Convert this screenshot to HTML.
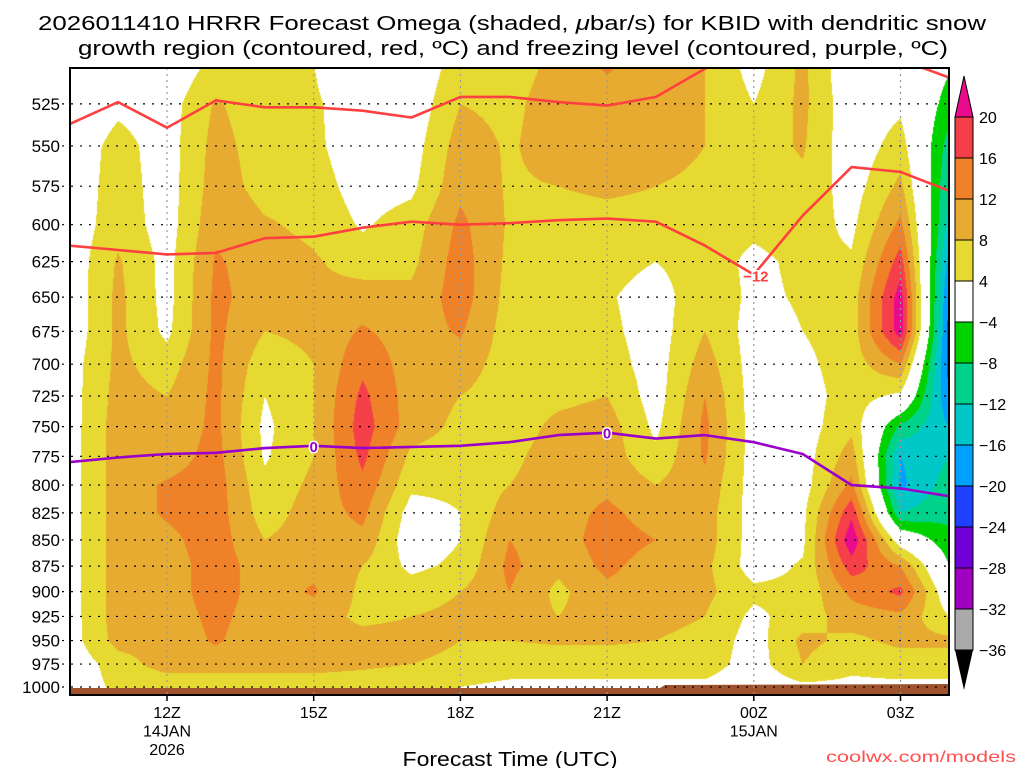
<!DOCTYPE html>
<html><head><meta charset="utf-8">
<style>
html,body{margin:0;padding:0;background:#fff;}
#wrap{position:relative;width:1024px;height:768px;overflow:hidden;font-family:"Liberation Sans",sans-serif;}
canvas{position:absolute;left:0;top:0;}
svg{position:absolute;left:0;top:0;}
</style></head>
<body>
<div id="wrap">
<canvas id="field" width="1024" height="768"></canvas>
<svg id="ov" width="1024" height="768"></svg>
</div>
<script>
// ---- data ----
const levels=[500,525,550,575,600,625,650,675,700,725,750,775,800,825,850,875,900,925,950,975,1000];
const hours=[10,11,12,13,14,15,16,17,18,19,20,21,22,23,24,25,26,27,28];
// omega per forecast hour, values from 500 -> 1000 hPa
const omegaH10=[0,0,1,1,1,1,1,1,2,2,2,2,2,2,2,2,2,2,2,1,1];
const omegaH11=[2,3,5.5,6,6.5,8.5,9,9,9,9.5,10,10,10,10,10,10,10,10,9.5,6,5];
const omegaH12=[0,2,2,2,2,2.5,2.5,3,6,8,9,10,12.5,12.5,11,10,10,10,9.5,10,5];
const omegaH13=[5,8.5,9.5,10,11,12.5,13,13,13,13,13,13.5,14,14,14,14,14,13,12.5,10,5];
const omegaH14=[5,5.5,6,6.5,8.5,10,10,8,5.5,4,3,3.5,5,6,8,10,10,10,9.5,10,5];
const omegaH15=[4,5,5,6,7,8.5,9,9,8,8,8,8,9,10,10,11,12.5,10,9.5,10,5];
const omegaH16=[-5,0,1,2,3.5,6,10,12.5,15,17,18,17,15,13,11,8,7,7,9.5,9,5];
const omegaH17=[0,1,2,3,6,7,9,10,10,10,10,7,5,2,1,3,6,8,9.5,8,4];
const omegaH18=[6,8,10,11,13,14,14,12.5,10,8,7,6,5,4,4,5,8,9,8,7,4];
const omegaH19=[6,7,7.5,7.5,7.5,7,6.5,6,6,6,6,7,8,10,12,13,12,10,8,6,3];
const omegaH20=[9,10,10,8,6,6,6,6,6,7,9,10,10,10,10,9,7,8,8.5,6,3];
const omegaH21=[13,10,10,9,6,5.5,4.5,5,6,8,10,10,11,13,14,13,11,10,8.5,6,3];
const omegaH22=[9,10,10,8,6,4,2,2,2,2,3,5,8,10,12,10,10,9,8,6,3];
const omegaH23=[8,8,8,7,6,6,7,8,10,12,13,12.5,11,10,10,9,9,8,7,6,3];
const omegaH24=[2,4,6,6,5,3,3,2,2,2,2,2,2,2,2,2,5,3,2,2,1];
const omegaH25=[9,9,8.5,7,6,5,4.5,4,3,2,2,2,2,3,3,4.5,5,6,9,8,3];
const omegaH26=[0,1,1,2,3,4.5,6,6,6,6,7,10,13,19,23,18,13,10,7,5,3];
const omegaH27=[1,3,6,9,13,18,22,22,12,3,-9,-16,-17,-12,1,12,17,11,9,6,3];
const omegaH28=[-3,-6,-10,-12,-14,-18,-21,-22,-22,-20,-16,-12,-10,-9,-7,-4,0,4,9,6,3];
const omega=[omegaH10,omegaH11,omegaH12,omegaH13,omegaH14,omegaH15,omegaH16,omegaH17,omegaH18,omegaH19,omegaH20,omegaH21,omegaH22,omegaH23,omegaH24,omegaH25,omegaH26,omegaH27,omegaH28];
// contour pressures (hPa) per hour
const dgzTop=[537,524,539,523,527,527,529,533,521,521,524,526,521,505,495,490,495,500,510];
const dgzBottom=[614,617,620,619,609,608,602,598,600,599,597,596,598,614,634,594,563,566,578];
const freezing=[780,776,773,772,768,766,768,767,766,763,757,755,760,757,763,773,800,803,810];
const xTickHours=[12,15,18,21,24,27];
const xTickLabels=[["12Z","14JAN","2026"],["15Z"],["18Z"],["21Z"],["00Z","15JAN"],["03Z"]];
const yTickLevels=[525,550,575,600,625,650,675,700,725,750,775,800,825,850,875,900,925,950,975,1000];
const cbLevels=[20,16,12,8,4,-4,-8,-12,-16,-20,-24,-28,-32,-36];

// ---- axes ----
const PL=70,PR=949,PT=68,PB=695;
const X=h=>167+(h-12)*48.9;
const Y=p=>687-905*Math.log(1000/p);
const Hx=x=>12+(x-167)/48.9;
const Py=y=>1000*Math.exp(-(687-y)/905);
const bins=[[20,'#ea0a8c'],[16,'#f5404a'],[12,'#ef8228'],[8,'#e6ab30'],[4,'#e6da32'],[-4,'#ffffff'],[-8,'#00d200'],[-12,'#00d28c'],[-16,'#00c8c8'],[-20,'#00a0ff'],[-24,'#2040ff'],[-28,'#7000d8'],[-32,'#a000c0'],[-36,'#aaaaaa']];
function colorOf(v){for(const b of bins){if(v>=b[0])return b[1];}return '#000000';}
function rgb(h){return [parseInt(h.substr(1,2),16),parseInt(h.substr(3,2),16),parseInt(h.substr(5,2),16)];}

// ---- shading ----
const cv=document.getElementById('field'),ctx=cv.getContext('2d');
const W=PR-PL,H=PB-PT;
const img=ctx.createImageData(W,H);
for(let py=0;py<H;py++){
  const p=Py(PT+py+0.5);
  let li=(p-levels[0])/25; li=Math.max(0,Math.min(levels.length-1.0001,li));
  const i0=Math.floor(li),fy=li-i0;
  for(let px=0;px<W;px++){
    let hi=Hx(PL+px+0.5)-hours[0]; hi=Math.max(0,Math.min(hours.length-1.0001,hi));
    const j0=Math.floor(hi),fx=hi-j0;
    const v=(omega[j0][i0]*(1-fx)+omega[j0+1][i0]*fx)*(1-fy)+(omega[j0][i0+1]*(1-fx)+omega[j0+1][i0+1]*fx)*fy;
    const c=rgb(colorOf(v));const k=(py*W+px)*4;
    img.data[k]=c[0];img.data[k+1]=c[1];img.data[k+2]=c[2];img.data[k+3]=255;
  }
}
ctx.putImageData(img,PL,PT);

// ---- overlay ----
const NS='http://www.w3.org/2000/svg',svg=document.getElementById('ov');
function mk(t,a,parent){const e=document.createElementNS(NS,t);for(const k in a)e.setAttribute(k,a[k]);(parent||svg).appendChild(e);return e;}
const clip=mk('clipPath',{id:'pc'});mk('rect',{x:PL,y:PT,width:W,height:H},clip);

// ground
const g=mk('polygon',{points:`${PL},688 660,688 665,685 ${PR},684 ${PR},${PB} ${PL},${PB}`,fill:'#a0522d'});



// gridlines
for(const lv of yTickLevels){
  const l=mk('line',{x1:PL-8,x2:PR,y1:Y(lv),y2:Y(lv),stroke:'#000','stroke-width':1.2,'stroke-dasharray':'2 7'});
  
  
  const t=mk('text',{x:60,y:Y(lv)+6,'text-anchor':'end','font-size':17,fill:'#000'});
  t.textContent=lv;
  
  
}
xTickHours.forEach((h,i)=>{
  const l=mk('line',{x1:X(h),x2:X(h),y1:PT,y2:PB,stroke:'#999','stroke-width':1.2,'stroke-dasharray':'2 4'});
  
  
  const tk=mk('line',{x1:X(h),x2:X(h),y1:PB,y2:PB+6,stroke:'#000','stroke-width':1.5});
  
  
  xTickLabels[i].forEach((s,k)=>{
    const t=mk('text',{x:X(h),y:718+k*18.5,'text-anchor':'middle','font-size':16,fill:'#000'});
    t.textContent=s;
    
    
  });
});

function line(arr,color,name){
  const pts=arr.map((p,i)=>X(hours[i]).toFixed(1)+','+Y(p).toFixed(1)).join(' ');
  const e=mk('polyline',{points:pts,fill:'none',stroke:color,'stroke-width':2.6,'clip-path':'url(#pc)','stroke-linejoin':'round'});
  
  
}
line(dgzTop,'#ff4040','dgz-upper-contour');
line(dgzBottom,'#ff4040','dgz-lower-contour');
line(freezing,'#9900cc','freezing-level-contour');
function lab(x,y,s,c,name){
  const t=mk('text',{x:x,y:y+6,'text-anchor':'middle','font-size':15,'font-weight':'bold',fill:c,stroke:'#fff','stroke-width':3,'paint-order':'stroke'});
  t.textContent=s;
  
  
}
lab(X(15),Y(freezing[5]),'0','#9900cc','freezing-label');
lab(X(21),Y(freezing[11]),'0','#9900cc','freezing-label');
lab(X(24)+2,Y(dgzBottom[14])+1,'\u221212','#ff4040','dgz-label');

// frame
const fr=mk('rect',{x:PL,y:PT,width:W,height:H,fill:'none',stroke:'#000','stroke-width':2});



// colorbar
const cbX=955,cbW=18,cbTop=117,cbStep=41;
const tri=mk('polygon',{points:`${cbX},${cbTop} ${cbX+cbW},${cbTop} ${cbX+cbW/2},76`,fill:'#ea0a8c',stroke:'#000','stroke-width':1});


for(let i=0;i<cbLevels.length-1;i++){
  const r=mk('rect',{x:cbX,y:cbTop+i*cbStep,width:cbW,height:cbStep,fill:bins[i+1][1],stroke:'#000','stroke-width':1});
  
  
}
const yb=cbTop+(cbLevels.length-1)*cbStep;
const tri2=mk('polygon',{points:`${cbX},${yb} ${cbX+cbW},${yb} ${cbX+cbW/2},690`,fill:'#000'});


cbLevels.forEach((v,i)=>{
  const t=mk('text',{x:979,y:cbTop+i*cbStep+6,'font-size':16,fill:'#000'});
  t.textContent=v<0?'\u2212'+(-v):String(v);
  
  
});

// titles
const t1=mk('text',{x:512,y:30,'text-anchor':'middle','font-size':20,fill:'#000',textLength:948,lengthAdjust:'spacingAndGlyphs'});
t1.innerHTML='2026011410 HRRR Forecast Omega (shaded, <tspan font-style="italic">\u03bc</tspan>bar/s) for KBID with dendritic snow';


const t2=mk('text',{x:513,y:55,'text-anchor':'middle','font-size':20,fill:'#000',textLength:870,lengthAdjust:'spacingAndGlyphs'});
t2.textContent='growth region (contoured, red, \u00baC) and freezing level (contoured, purple, \u00baC)';


const xt=mk('text',{x:510,y:766,'text-anchor':'middle','font-size':20,fill:'#000',textLength:215,lengthAdjust:'spacingAndGlyphs'});
xt.textContent='Forecast Time (UTC)';


const wm=mk('text',{x:1016,y:762,'text-anchor':'end','font-size':16,fill:'#ff5050',textLength:190,lengthAdjust:'spacingAndGlyphs'});
wm.textContent='coolwx.com/models';


</script>
</body></html>
